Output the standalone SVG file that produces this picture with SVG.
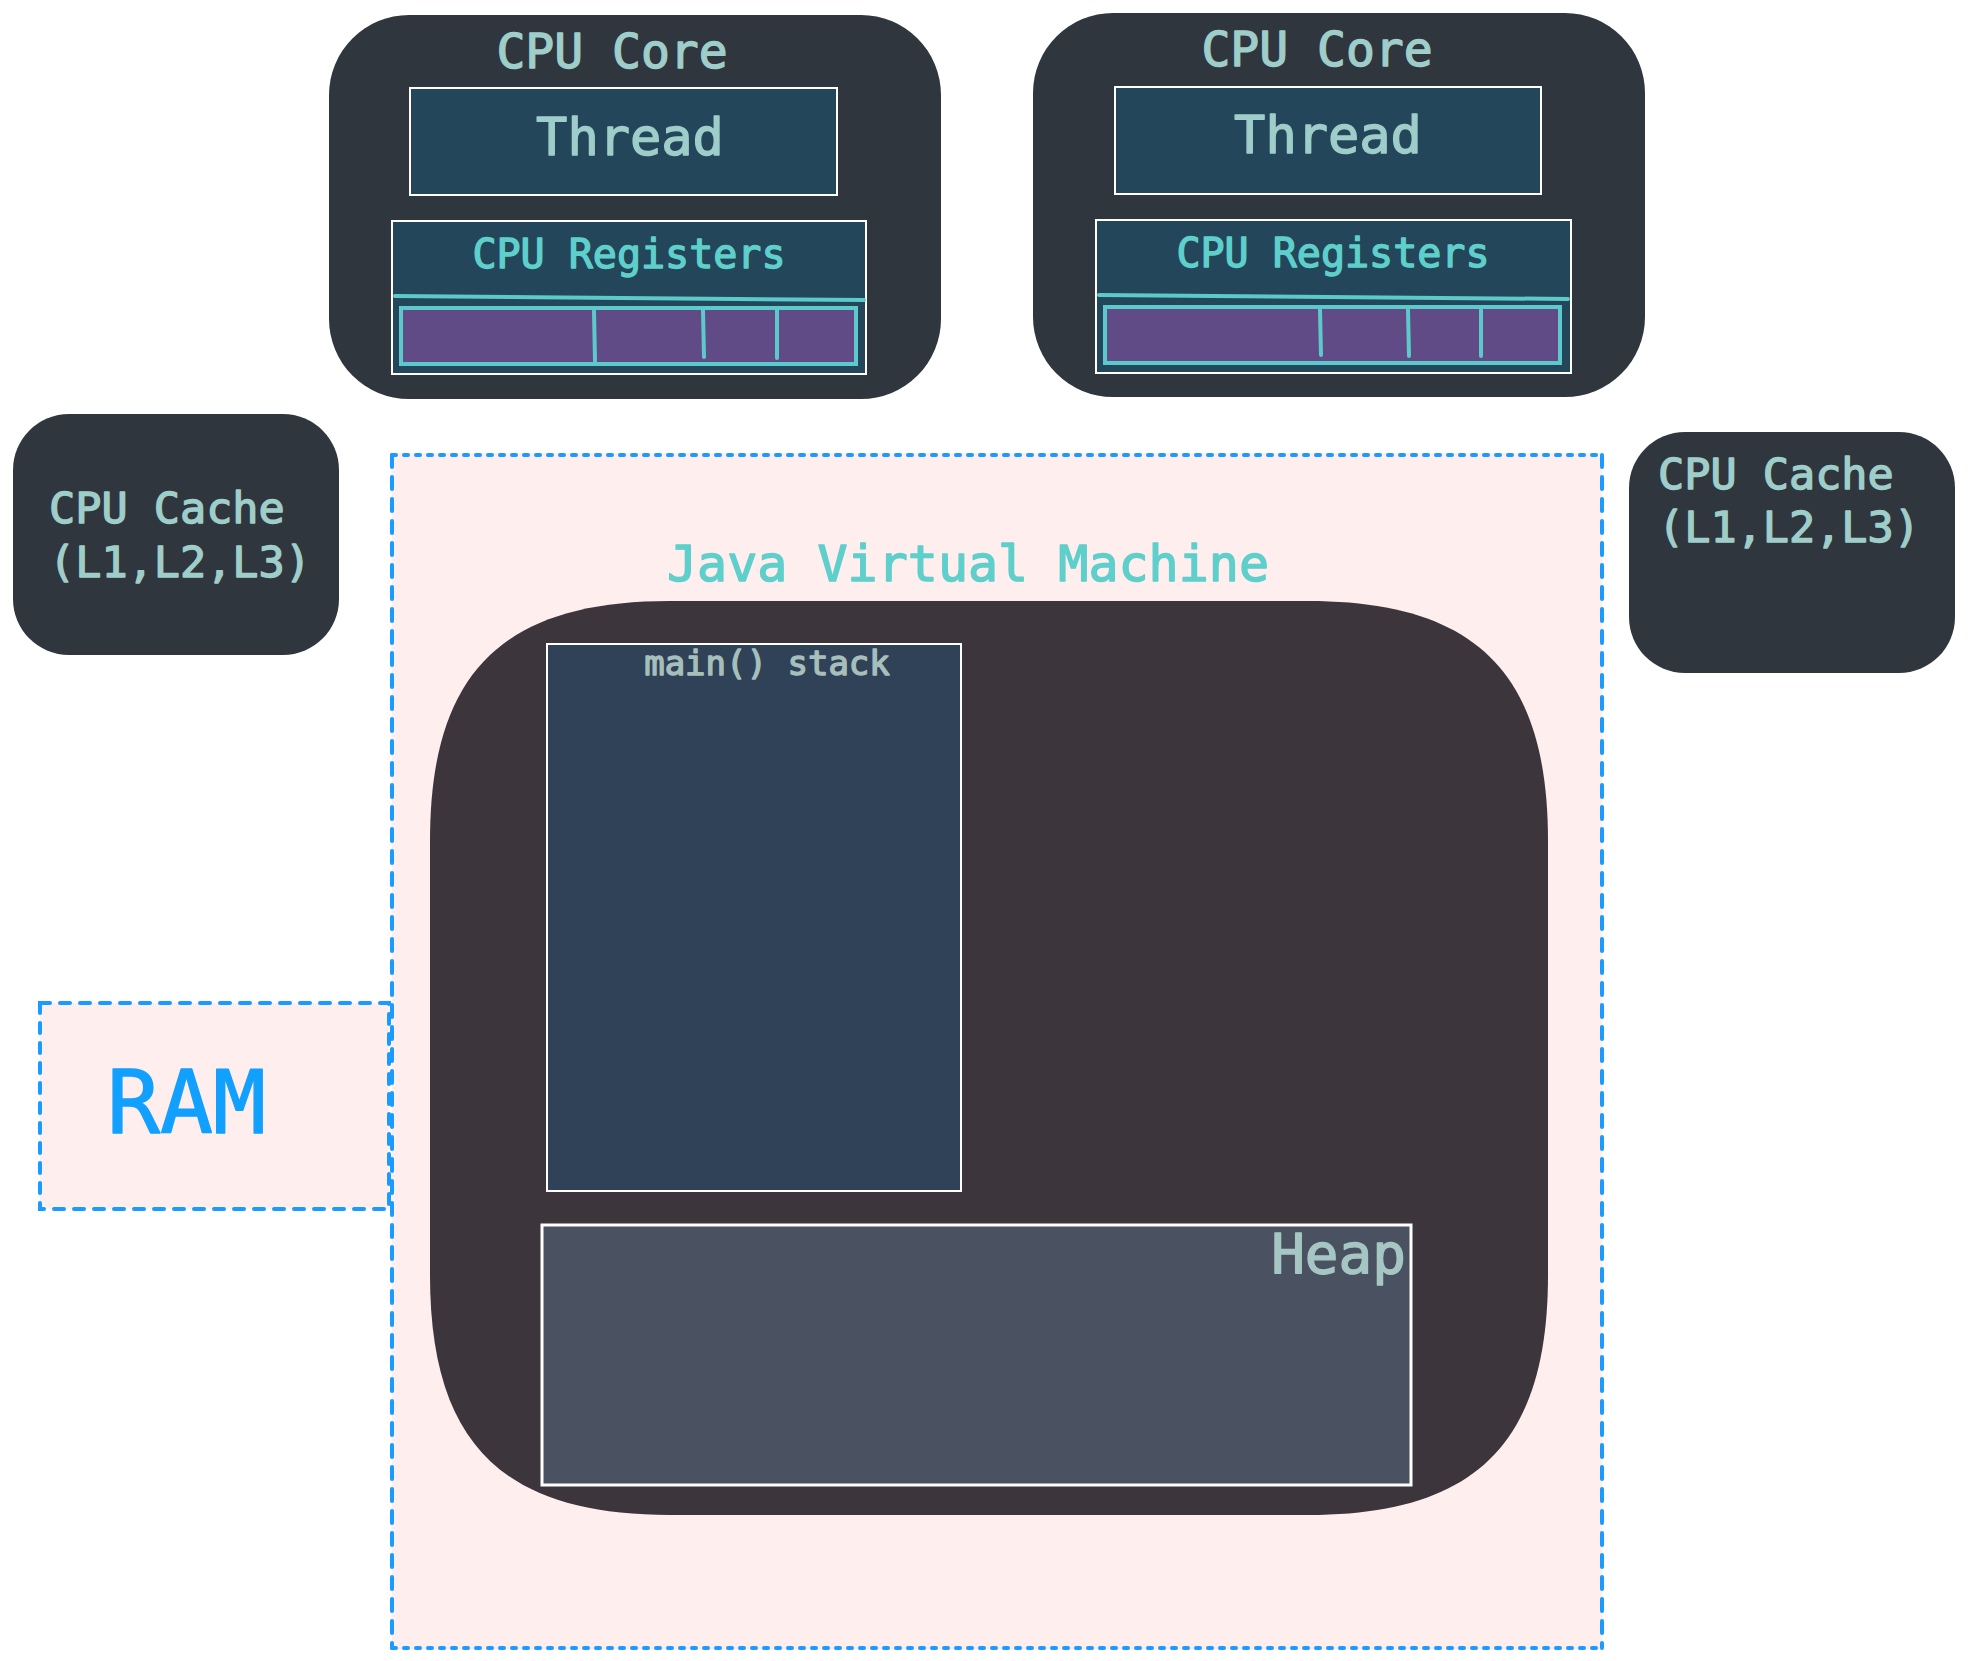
<svg xmlns="http://www.w3.org/2000/svg" width="1968" height="1661" viewBox="0 0 1968 1661">
<style>
.core{fill:#2f363e}
.thread{fill:#23465a;stroke:#ffffff;stroke-width:2}
.reg{fill:#23465a;stroke:#ffffff;stroke-width:2}
.strip{fill:#614b86;stroke:#5ccaca;stroke-width:4}
.tl{stroke:#5ccaca;stroke-width:4;stroke-linecap:round;fill:none}
.mono{font-family:"DejaVu Sans Mono","Liberation Mono",monospace;stroke-width:1.4;stroke-linejoin:round}
.pale{fill:#9fcdc9;stroke:#9fcdc9}
.teal{fill:#5fcfcb;stroke:#5fcfcb}
.dash{stroke:#1a9bff;stroke-width:4;fill:none;stroke-linecap:round}
</style>
<rect width="1968" height="1661" fill="#ffffff"/>
<g id="ram-area">
<rect x="392" y="453" width="1210" height="1197" fill="#ffeeee"/>
<line class="dash" x1="392" y1="455" x2="1602" y2="455" stroke-dasharray="4 8"/>
<line class="dash" x1="392" y1="1648" x2="1602" y2="1648" stroke-dasharray="4 8"/>
<line class="dash" x1="392" y1="455" x2="392" y2="1648" stroke-dasharray="12 10"/>
<line class="dash" x1="1602" y1="455" x2="1602" y2="1648" stroke-dasharray="12 10"/>
</g>
<g id="ram-label">
<rect x="40" y="1003" width="349" height="206" fill="#ffeeee"/>
<rect class="dash" x="40" y="1003" width="349" height="206" stroke-dasharray="10 10"/>
<text class="mono" x="107" y="1133" font-size="88" fill="#12a0ff" stroke="#12a0ff" stroke-width="3">RAM</text>
</g>
<g id="core1">
<rect class="core" x="329" y="15" width="612" height="384" rx="80" ry="80"/>
<text class="mono pale" x="612" y="68" font-size="48" text-anchor="middle">CPU Core</text>
<g id="thread1">
<rect class="thread" x="410" y="88" width="427" height="107"/>
<text class="mono pale" x="630" y="155" font-size="52" text-anchor="middle">Thread</text>
</g>
<g id="registers1">
<rect class="reg" x="392" y="221" width="474" height="153"/>
<text class="mono teal" x="629" y="268" font-size="40" text-anchor="middle">CPU Registers</text>
<path class="tl" d="M395 296 L864 300"/>
<rect class="strip" x="401" y="308" width="455" height="56"/>
<path class="tl" d="M594 311 L595 361 M703 310 L704 357 M777 310 L777 358"/>
</g>
</g>
<g id="core2">
<rect class="core" x="1033" y="13" width="612" height="384" rx="80" ry="80"/>
<text class="mono pale" x="1317" y="66" font-size="48" text-anchor="middle">CPU Core</text>
<g id="thread2">
<rect class="thread" x="1115" y="87" width="426" height="107"/>
<text class="mono pale" x="1328" y="153" font-size="52" text-anchor="middle">Thread</text>
</g>
<g id="registers2">
<rect class="reg" x="1096" y="220" width="475" height="153"/>
<text class="mono teal" x="1333" y="267" font-size="40" text-anchor="middle">CPU Registers</text>
<path class="tl" d="M1099 295 L1568 299"/>
<rect class="strip" x="1105" y="307" width="455" height="56"/>
<path class="tl" d="M1320 310 L1321 355 M1408 310 L1409 356 M1481 310 L1481 356"/>
</g>
</g>
<g id="cache-left">
<rect class="core" x="13" y="414" width="326" height="241" rx="56" ry="56"/>
<text class="mono pale" x="49" y="523" font-size="43.5">CPU Cache</text>
<text class="mono pale" x="49" y="577" font-size="43.5">(L1,L2,L3)</text>
</g>
<g id="cache-right">
<rect class="core" x="1629" y="432" width="326" height="241" rx="56" ry="56"/>
<text class="mono pale" x="1658" y="489" font-size="43.5">CPU Cache</text>
<text class="mono pale" x="1658" y="542" font-size="43.5">(L1,L2,L3)</text>
</g>
<g id="jvm">
<text class="mono teal" x="968" y="581" font-size="50" text-anchor="middle">Java Virtual Machine</text>
<path fill="#3c353c" d="M670 601 L1308 601 C1476 601 1548 673 1548 841 L1548 1275 C1548 1443 1476 1515 1308 1515 L670 1515 C502 1515 430 1443 430 1275 L430 841 C430 673 502 601 670 601 Z"/>
</g>
<g id="stack">
<rect x="547" y="644" width="414" height="547" fill="#304257" stroke="#ffffff" stroke-width="2"/>
<text class="mono" x="767" y="675" font-size="34" text-anchor="middle" fill="#a6bfbb" stroke="#a6bfbb" stroke-width="1.4">main() stack</text>
</g>
<g id="heap">
<rect x="542" y="1225" width="869" height="260" fill="#4a5261" stroke="#ffffff" stroke-width="3"/>
<text class="mono" x="1406" y="1273" font-size="56" text-anchor="end" fill="#a6c6c4" stroke="#a6c6c4">Heap</text>
</g>
<g id="connectors"></g>
</svg>
